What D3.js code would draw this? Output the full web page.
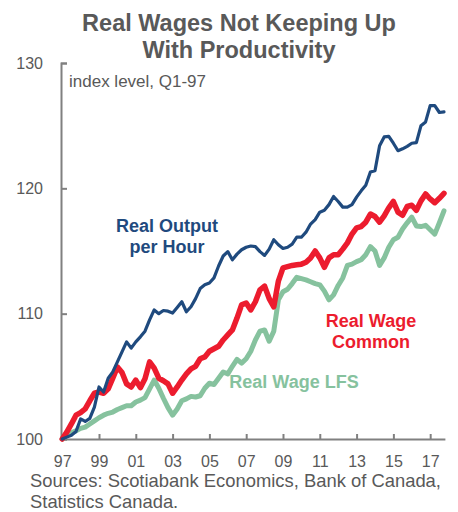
<!DOCTYPE html>
<html>
<head>
<meta charset="utf-8">
<script src="https://cdn.jsdelivr.net/npm/d3@7"></script>
<style>
  body { margin: 0; background: #fff; }
  svg { font-family: "Liberation Sans", Arial, sans-serif; }
  .axis path, .axis line { stroke: #808080; stroke-width: 2; }
  .axis text { fill: #595959; font-size: 16px; font-family: "Liberation Sans", Arial, sans-serif; }
</style>
</head>
<body>
<div id="chart"></div>
<script>
// quarterly index, Q1-1997 = 100
const startYear = 1997;
const outputPerHour = [
  100.0, 100.15, 100.3, 100.6, 101.6, 101.4, 101.65, 102.55,
  104.15, 103.75, 104.85, 105.35, 106.15, 106.95, 107.75, 107.25,
  107.75, 108.15, 108.6, 109.5, 110.3, 110.0, 110.25, 110.2,
  110.05, 110.5, 110.95, 110.15, 110.55, 111.2, 112.0, 112.3,
  112.45, 112.85, 113.8, 114.6, 114.95, 114.3, 114.75, 115.1,
  115.3, 115.4, 115.35, 114.95, 114.65, 115.15, 115.9, 115.5,
  115.2, 115.3, 115.55, 116.1, 116.1, 116.5, 117.15, 117.5,
  118.1, 118.25, 118.7, 119.35, 118.95, 118.5, 118.5, 118.7,
  119.3, 119.8, 120.25, 121.3, 121.4, 123.4, 124.1, 124.15,
  123.6, 123.0, 123.15, 123.35, 123.6, 123.65, 125.0, 125.3,
  126.6, 126.6, 126.05, 126.1
];
const wageCommon = [
  100.0, 100.55, 101.2, 101.9, 102.1, 102.4, 103.05, 103.65,
  103.75, 103.65, 104.0, 104.85, 105.75, 105.3, 104.4, 104.15,
  104.7, 104.1, 104.8, 106.15, 105.65, 104.85, 104.65, 104.4,
  103.65, 104.15, 104.7, 105.2, 105.6, 105.8, 106.4, 106.55,
  107.0, 107.2, 107.4, 107.9, 108.3, 108.7, 109.65, 110.7,
  110.85, 110.3, 110.95, 111.9, 112.2, 111.2, 110.55, 112.6,
  113.65, 113.75, 113.85, 113.9, 113.95, 114.1, 114.45, 115.0,
  114.45, 113.7, 114.45, 114.7, 114.7, 115.15, 115.65, 116.35,
  116.85, 116.95, 117.3, 117.95, 117.75, 117.3, 117.8, 118.45,
  118.95, 118.1, 117.85, 118.55, 118.65, 118.25, 119.0, 119.55,
  119.15, 118.85, 119.2, 119.6
];
const wageLFS = [
  100.0, 100.3, 100.5, 100.65, 100.85, 100.95, 101.2, 101.45,
  101.7, 101.9, 102.05, 102.15, 102.35, 102.5, 102.65, 102.65,
  102.95, 103.1, 103.3, 104.0, 104.7, 104.05, 103.25, 102.5,
  101.9, 102.4, 103.05, 103.2, 103.4, 103.35, 103.45, 104.05,
  104.45, 104.35, 104.85, 105.35, 105.2, 105.8, 106.35, 106.05,
  106.4, 107.0, 107.9, 108.6, 108.7, 107.8, 108.6, 111.1,
  111.75, 111.95, 112.4, 112.9, 112.8, 112.7, 112.55, 112.4,
  112.3, 111.8, 111.1, 111.5, 112.25, 112.85, 113.85, 113.95,
  114.15, 114.3, 114.7, 115.35, 115.0, 113.85, 114.45, 115.3,
  115.9, 116.1, 116.75, 117.25, 117.7, 117.0, 116.95, 117.05,
  116.7, 116.35, 117.25, 118.2
];
const xTicks = [1997, 1999, 2001, 2003, 2005, 2007, 2009, 2011, 2013, 2015, 2017];
const yTicks = [100, 110, 120, 130];
const titleLines = ["Real Wages Not Keeping Up", "With Productivity"];
const sourceLines = ["Sources: Scotiabank Economics, Bank of Canada,", "Statistics Canada."];

const w = 458;
const h = 512;

const xScale = d3.scaleLinear()
                .domain([1997, 2017.8])
                .range([62.2, 444.9]);
const yScale = d3.scaleLinear()
                .domain([100, 130])
                .range([439, 63]);

const svg = d3.select("#chart")
              .append("svg")
              .attr("width", w)
              .attr("height", h);

// title
svg.append("text")
   .attr("x", 239)
   .attr("y", 31)
   .attr("text-anchor", "middle")
   .style("font-size", "23.5px")
   .style("font-weight", "bold")
   .style("fill", "#595959")
   .selectAll("tspan")
   .data(titleLines)
   .enter()
   .append("tspan")
   .attr("x", 239)
   .attr("dy", (d, i) => i == 0 ? 0 : 27)
   .text(d => d);

// x-axis, ticks pointing up
const xAxis = d3.axisBottom(xScale)
                .tickValues(xTicks)
                .tickFormat(d => String(d).slice(2))
                .tickSizeInner(-5)
                .tickSizeOuter(0)
                .tickPadding(17);
svg.append("g")
   .attr("class", "axis")
   .attr("transform", "translate(0," + yScale(100) + ")")
   .call(xAxis);

// y-axis, ticks pointing right
const yAxis = d3.axisLeft(yScale)
                .tickValues(yTicks)
                .tickSizeInner(-6)
                .tickSizeOuter(-6)
                .tickPadding(18);
svg.append("g")
   .attr("class", "axis")
   .attr("transform", "translate(61,0)")
   .call(yAxis);

svg.append("text")
   .attr("x", 69)
   .attr("y", 87)
   .style("font-size", "17px")
   .style("fill", "#595959")
   .text("index level, Q1-97");

// lines
const line = d3.line()
               .x((d, i) => xScale(startYear + i / 4))
               .y(d => yScale(d));

const series = [
  {values: wageLFS, color: "#86c29e", width: 5},
  {values: wageCommon, color: "#ec1c2e", width: 5.5},
  {values: outputPerHour, color: "#1f4a7e", width: 3.2}
];
svg.selectAll(".series")
   .data(series)
   .enter()
   .append("path")
   .attr("class", "series")
   .attr("d", d => line(d.values))
   .attr("fill", "none")
   .attr("stroke", d => d.color)
   .attr("stroke-width", d => d.width)
   .attr("stroke-linejoin", "round")
   .attr("stroke-linecap", "round");

// series labels
const labels = [
  {lines: ["Real Output", "per Hour"], x: 167, y: 232, color: "#1f4a7e"},
  {lines: ["Real Wage", "Common"], x: 371, y: 327, color: "#ec1c2e"},
  {lines: ["Real Wage LFS"], x: 294, y: 388, color: "#86c29e"}
];
labels.forEach(l => {
  svg.append("text")
     .attr("text-anchor", "middle")
     .attr("y", l.y)
     .style("font-size", "18px")
     .style("font-weight", "bold")
     .style("fill", l.color)
     .selectAll("tspan")
     .data(l.lines)
     .enter()
     .append("tspan")
     .attr("x", l.x)
     .attr("dy", (d, i) => i == 0 ? 0 : 21)
     .text(d => d);
});

// sources
svg.append("text")
   .attr("y", 487)
   .style("font-size", "18.4px")
   .style("fill", "#595959")
   .selectAll("tspan")
   .data(sourceLines)
   .enter()
   .append("tspan")
   .attr("x", 30)
   .attr("dy", (d, i) => i == 0 ? 0 : 21)
   .text(d => d);
</script>
</body>
</html>
